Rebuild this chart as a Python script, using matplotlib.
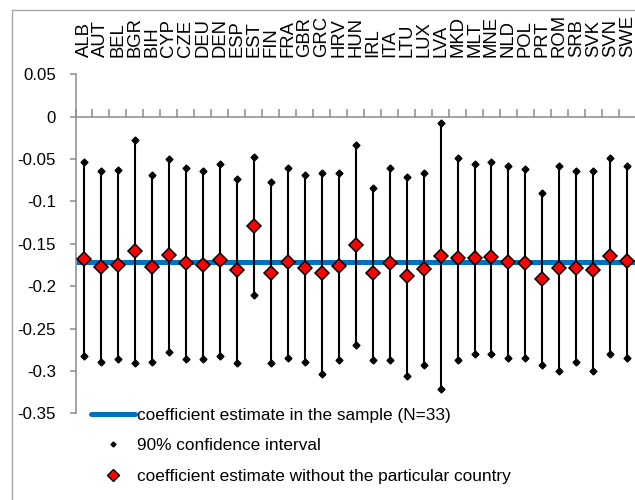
import matplotlib
matplotlib.use('Agg')
import matplotlib.pyplot as plt
from matplotlib import font_manager
from matplotlib.lines import Line2D
from matplotlib.patches import Rectangle
import numpy as np

countries = ['ALB', 'AUT', 'BEL', 'BGR', 'BIH', 'CYP', 'CZE', 'DEU', 'DEN', 'ESP', 'EST',
             'FIN', 'FRA', 'GBR', 'GRC', 'HRV', 'HUN', 'IRL', 'ITA', 'LTU', 'LUX', 'LVA',
             'MKD', 'MLT', 'MNE', 'NLD', 'POL', 'PRT', 'ROM', 'SRB', 'SVK', 'SVN', 'SWE']
upper = [-0.054, -0.0645, -0.0625, -0.028, -0.069, -0.050, -0.060, -0.0645, -0.056, -0.073, -0.047,
         -0.077, -0.060, -0.069, -0.066, -0.0665, -0.034, -0.084, -0.060, -0.071, -0.0665, -0.008,
         -0.049, -0.0555, -0.0535, -0.058, -0.062, -0.090, -0.058, -0.064, -0.064, -0.049, -0.058]
lower = [-0.2825, -0.289, -0.2865, -0.291, -0.289, -0.278, -0.2865, -0.2865, -0.2825, -0.291, -0.211,
         -0.291, -0.2845, -0.289, -0.304, -0.287, -0.2695, -0.287, -0.287, -0.306, -0.293, -0.321,
         -0.287, -0.280, -0.280, -0.2845, -0.2845, -0.293, -0.2995, -0.289, -0.2995, -0.280, -0.2845]
estimate = [-0.168, -0.177, -0.175, -0.159, -0.1775, -0.163, -0.173, -0.175, -0.169, -0.181, -0.129,
            -0.184, -0.1715, -0.179, -0.185, -0.176, -0.1515, -0.185, -0.173, -0.1885, -0.180, -0.164,
            -0.167, -0.167, -0.1655, -0.172, -0.173, -0.1915, -0.1785, -0.178, -0.181, -0.1645, -0.170]
overall = -0.172
yticks = [0.05, 0, -0.05, -0.1, -0.15, -0.2, -0.25, -0.3, -0.35]
ylabels = ['0.05', '0', '-0.05', '-0.1', '-0.15', '-0.2', '-0.25', '-0.3', '-0.35']
legend_labels = ['coefficient estimate in the sample (N=33)', '90% confidence interval',
                 'coefficient estimate without the particular country']

names = {f.name for f in font_manager.fontManager.ttflist}
narrow = 'Liberation Sans Narrow' if 'Liberation Sans Narrow' in names else 'Liberation Sans'

W, H = 635, 500
fig = plt.figure(figsize=(W / 100, H / 100), dpi=100)
renderer = fig.canvas.get_renderer()


def fit_size(text, family, target_px, base=10):
    # font size (pt) that gives the text the wanted width in pixels
    t = fig.text(0, 0, text, fontsize=base, family=family)
    w = t.get_window_extent(renderer=renderer).width
    t.remove()
    return base * target_px / w


tick_fs = min(fit_size('-0.05', narrow, 38), 15)
leg_fs = min(fit_size(legend_labels[0], narrow, 315), 15)
cat_fs = fit_size('ALB', 'Liberation Sans', 35)

# outer chart frame (cut off on the right and bottom)
fig.patches.append(Rectangle((12 / W, -0.1), 1.2, 1 - 10 / H + 0.1, transform=fig.transFigure,
                             fill=False, edgecolor='#a6a6a6', lw=1.0))

left, right, top, bottom = 75.5, 635.8, 74.3, 413.3
ax = fig.add_axes([left / W, 1 - bottom / H, (right - left) / W, (bottom - top) / H])

x = np.arange(len(countries))
ax.plot([-0.5, len(countries) - 0.5], [overall, overall], color='#0070C0', lw=3.6, zorder=1,
        solid_capstyle='butt')
ax.vlines(x, lower, upper, color='black', lw=1.5, zorder=2)
ax.plot(x, upper, ls='none', marker='D', color='black', ms=3.5, zorder=3)
ax.plot(x, lower, ls='none', marker='D', color='black', ms=3.5, zorder=3)
ax.plot(x, estimate, ls='none', marker='D', mfc='#ff0000', mec='black', mew=1.1, ms=7.6, zorder=4)

ax.set_xlim(-0.5, len(countries) - 0.5)
ax.set_ylim(-0.35, 0.05)

for s in ['top', 'right']:
    ax.spines[s].set_visible(False)
ax.spines['bottom'].set_position(('data', 0))
for s in ['bottom', 'left']:
    ax.spines[s].set_color('#8c8c8c')
    ax.spines[s].set_linewidth(1.1)

# category boundaries as ticks on the zero line, names on top
ax.set_xticks(np.arange(-0.5, len(countries), 1))
ax.set_xticks(x, minor=True)
ax.set_xticklabels(countries, minor=True, rotation=90, fontsize=cat_fs, family='Liberation Sans')
ax.tick_params(axis='x', which='major', direction='in', length=6, width=1.1, color='#8c8c8c',
               labelbottom=False, top=False)
ax.tick_params(axis='x', which='minor', bottom=False, top=True, length=0, labelbottom=False,
               labeltop=True, pad=12.5)

ax.set_yticks(yticks)
ax.set_yticklabels(ylabels, fontsize=tick_fs, family=narrow)
ax.tick_params(axis='y', direction='out', length=4.3, width=1.1, color='#8c8c8c', pad=9.7)

fs_px = leg_fs * 100 / 72
handles = [Line2D([], [], color='#0070C0', lw=3.6, solid_capstyle='round'),
           Line2D([], [], ls='none', marker='D', color='black', ms=2.5),
           Line2D([], [], ls='none', marker='D', mfc='#ff0000', mec='black', mew=1, ms=6.5)]
fig.legend(handles, legend_labels, loc='upper left',
           bbox_to_anchor=(91 / W, 1 - (416 - 0.47 * fs_px) / H),
           frameon=False, borderpad=0, borderaxespad=0, handlelength=44 / fs_px,
           handletextpad=2 / fs_px, labelspacing=(31.5 - 0.94 * fs_px) / fs_px,
           prop={'family': narrow, 'size': leg_fs})

fig.savefig('out.png', dpi=100)
